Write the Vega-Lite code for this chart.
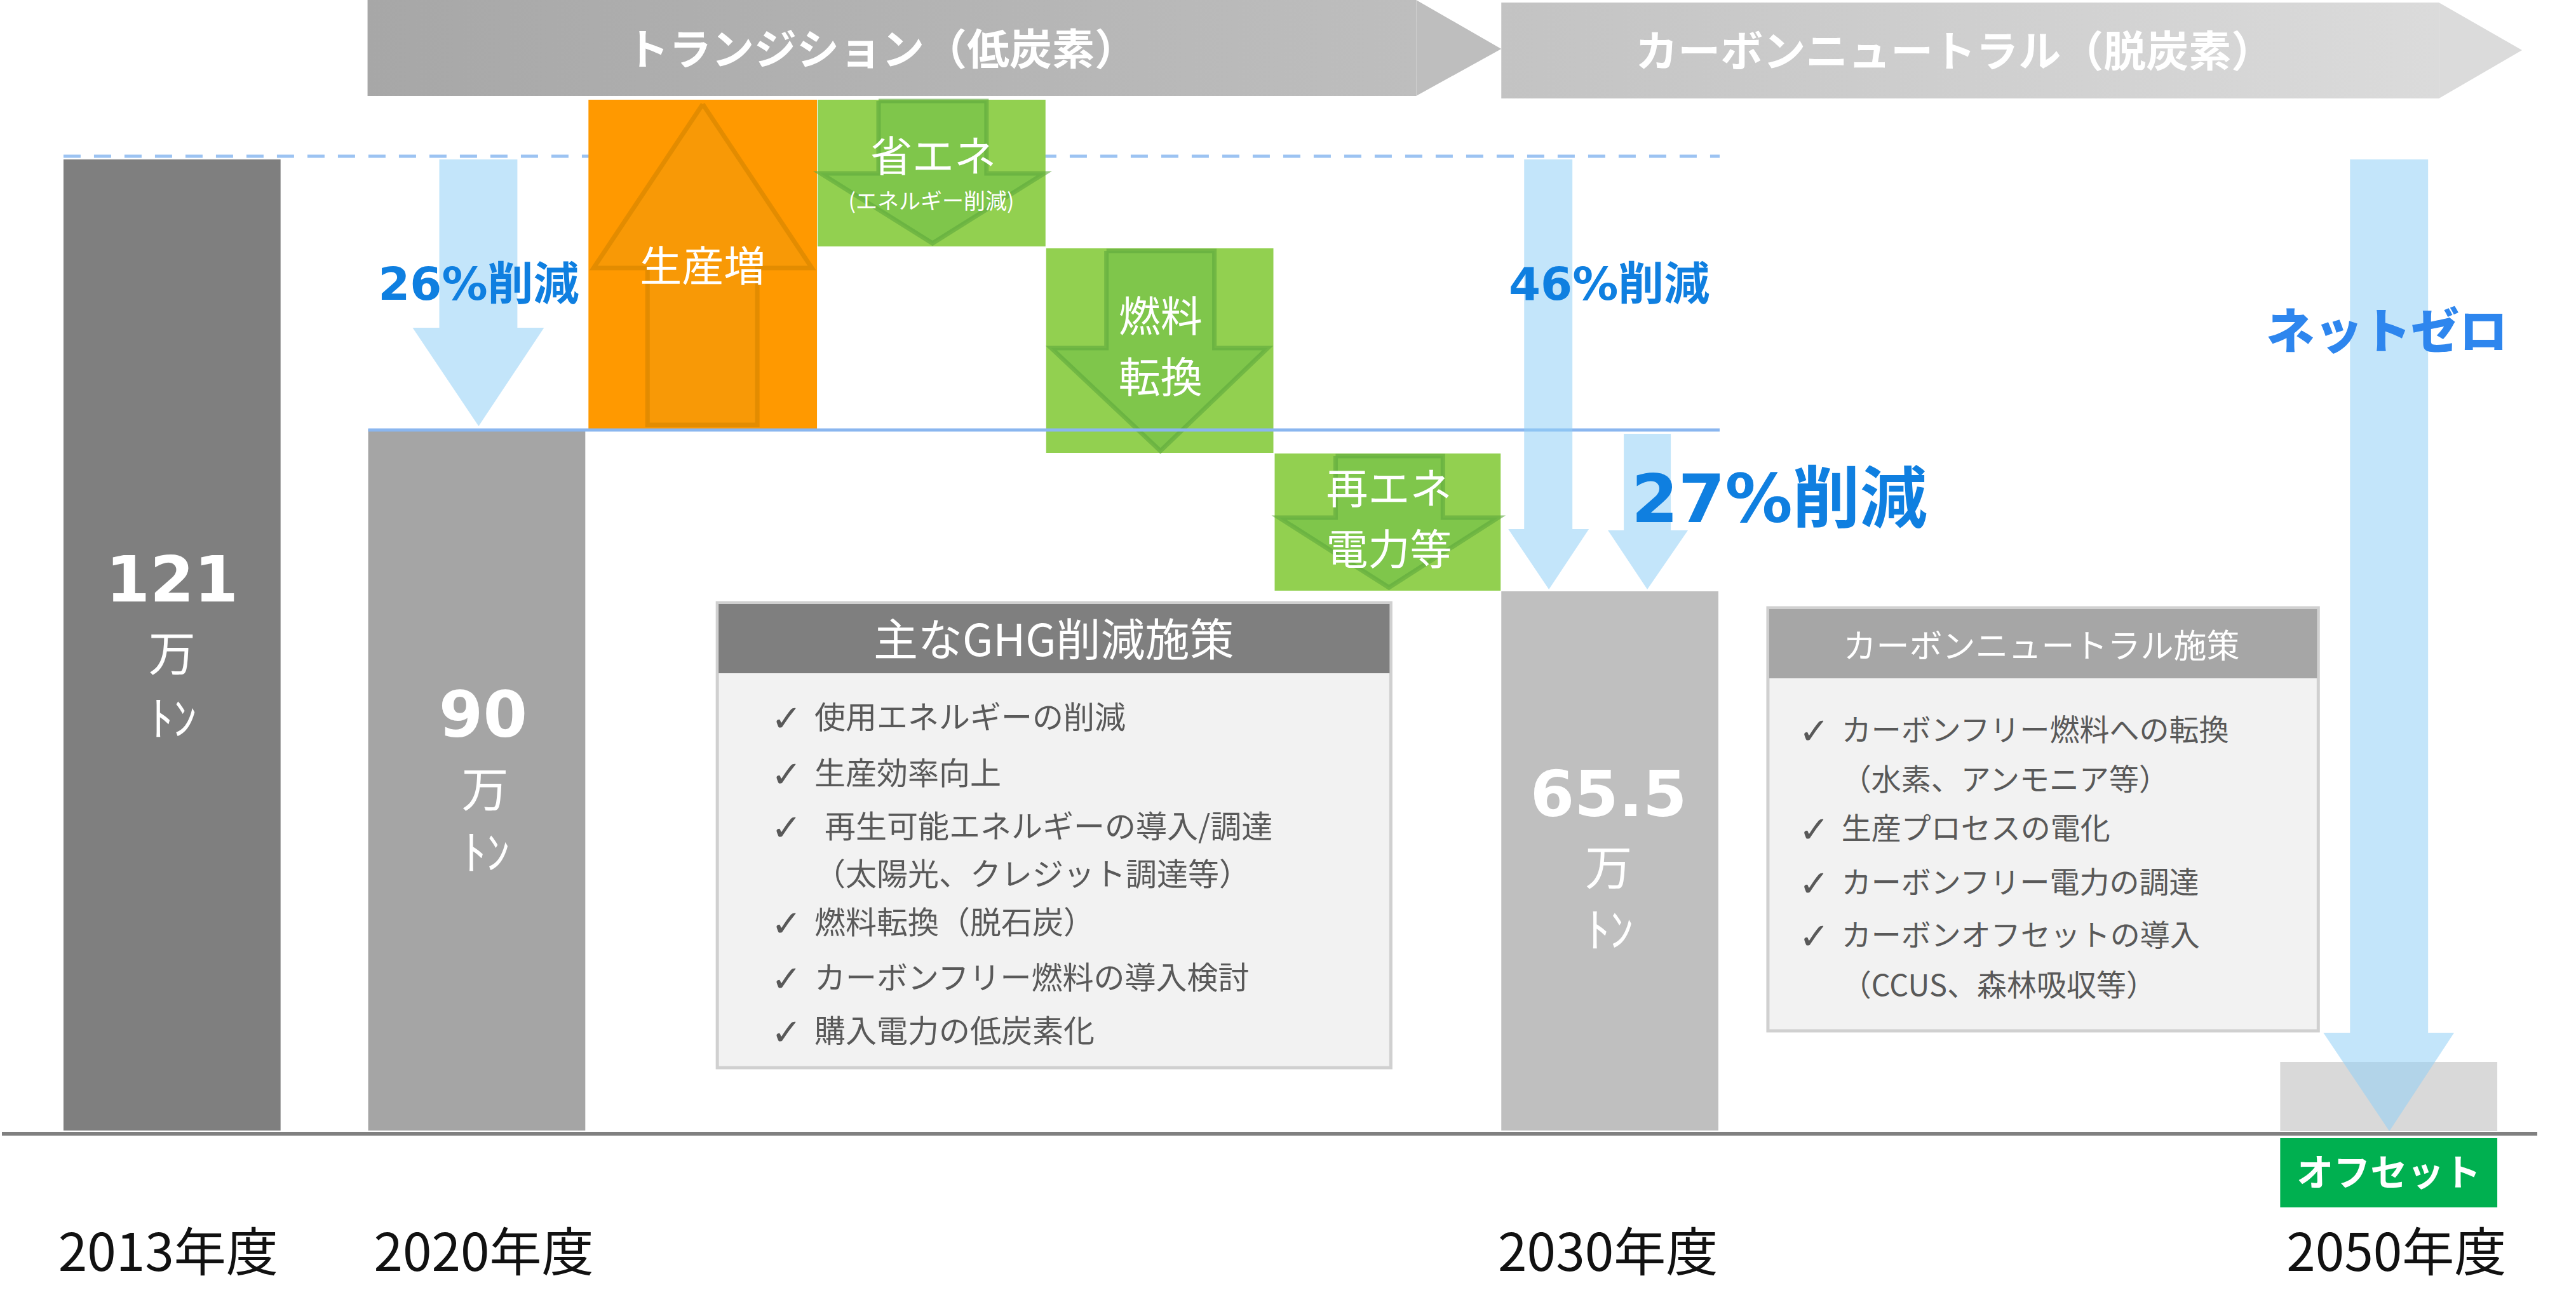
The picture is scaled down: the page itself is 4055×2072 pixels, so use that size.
{
  "$schema": "https://vega.github.io/schema/vega-lite/v6.json",
  "width": 4055,
  "height": 2072,
  "autosize": {"type": "fit", "contains": "padding"},
  "padding": 0,
  "background": "white",
  "config": {"view": {"stroke": null}},
  "datasets": {
    "banner": [
      {"id": 1, "x": 576, "x2": 2228, "y": 0, "y2": 151},
      {"id": 2, "x": 2362, "x2": 3839, "y": 4, "y2": 155}
    ],
    "bannerTips": [
      {"id": 1, "x": 2228, "y": 0, "y2": 151},
      {"id": 1, "x": 2362, "y": 77, "y2": 77},
      {"id": 2, "x": 3839, "y": 4, "y2": 155},
      {"id": 2, "x": 3970, "y": 79, "y2": 79}
    ],
    "bannerText": [
      {"x": 1386, "y": 82, "t": "トランジション（低炭素）"},
      {"x": 3076, "y": 85, "t": "カーボンニュートラル（脱炭素）"}
    ],
    "guides": [
      {"id": "level2013", "x": 97, "x2": 2706, "y": 246},
      {"id": "level2020", "x": 577, "x2": 2706, "y": 677},
      {"id": "axis", "x": 0, "x2": 3994, "y": 1785}
    ],
    "bars": [
      {"name": "2013年度", "kind": "b2013", "x": 97, "x2": 439, "y": 251, "y2": 1780},
      {"name": "2020年度", "kind": "b2020", "x": 577, "x2": 919, "y": 676, "y2": 1780},
      {"name": "2030年度", "kind": "b2030", "x": 2362, "x2": 2704, "y": 931, "y2": 1780},
      {"name": "2050年度", "kind": "b2050", "x": 3589, "x2": 3931, "y": 1672, "y2": 1781},
      {"name": "生産増", "kind": "increase", "x": 924, "x2": 1284, "y": 157, "y2": 676},
      {"name": "省エネ", "kind": "reduce", "x": 1285, "x2": 1644, "y": 157, "y2": 388},
      {"name": "燃料転換", "kind": "reduce", "x": 1645, "x2": 2003, "y": 391, "y2": 713},
      {"name": "再エネ電力等", "kind": "reduce", "x": 2005, "x2": 2361, "y": 714, "y2": 930}
    ],
    "upShaft": [
      {"id": "up", "x": 1017, "x2": 1190, "y": 422, "y2": 669}
    ],
    "upHead": [
      {"id": "up", "x": 932, "y": 422, "y2": 422},
      {"id": "up", "x": 1104, "y": 164, "y2": 422},
      {"id": "up", "x": 1276, "y": 422, "y2": 422}
    ],
    "upOutline": [
      {"id": "up", "o": 1, "x": 1104, "y": 164},
      {"id": "up", "o": 2, "x": 1276, "y": 422},
      {"id": "up", "o": 3, "x": 1190, "y": 422},
      {"id": "up", "o": 4, "x": 1190, "y": 669},
      {"id": "up", "o": 5, "x": 1017, "y": 669},
      {"id": "up", "o": 6, "x": 1017, "y": 422},
      {"id": "up", "o": 7, "x": 932, "y": 422},
      {"id": "up", "o": 8, "x": 1104, "y": 164}
    ],
    "greenShafts": [
      {"id": "A", "x": 1381, "x2": 1551, "y": 159, "y2": 273},
      {"id": "B", "x": 1740, "x2": 1910, "y": 395, "y2": 548},
      {"id": "C", "x": 2101, "x2": 2270, "y": 718, "y2": 815}
    ],
    "greenHeads": [
      {"id": "A", "x": 1290, "y": 273, "y2": 273},
      {"id": "A", "x": 1466, "y": 273, "y2": 383},
      {"id": "A", "x": 1642, "y": 273, "y2": 273},
      {"id": "B", "x": 1653, "y": 548, "y2": 548},
      {"id": "B", "x": 1825, "y": 548, "y2": 710},
      {"id": "B", "x": 1994, "y": 548, "y2": 548},
      {"id": "C", "x": 2012, "y": 815, "y2": 815},
      {"id": "C", "x": 2185, "y": 815, "y2": 925},
      {"id": "C", "x": 2357, "y": 815, "y2": 815}
    ],
    "greenOutlines": [
      {"id": "A", "o": 1, "x": 1381, "y": 159}, {"id": "A", "o": 2, "x": 1551, "y": 159},
      {"id": "A", "o": 3, "x": 1551, "y": 273}, {"id": "A", "o": 4, "x": 1642, "y": 273},
      {"id": "A", "o": 5, "x": 1466, "y": 383}, {"id": "A", "o": 6, "x": 1290, "y": 273},
      {"id": "A", "o": 7, "x": 1381, "y": 273}, {"id": "A", "o": 8, "x": 1381, "y": 159},
      {"id": "B", "o": 1, "x": 1740, "y": 395}, {"id": "B", "o": 2, "x": 1910, "y": 395},
      {"id": "B", "o": 3, "x": 1910, "y": 548}, {"id": "B", "o": 4, "x": 1994, "y": 548},
      {"id": "B", "o": 5, "x": 1825, "y": 710}, {"id": "B", "o": 6, "x": 1653, "y": 548},
      {"id": "B", "o": 7, "x": 1740, "y": 548}, {"id": "B", "o": 8, "x": 1740, "y": 395},
      {"id": "C", "o": 1, "x": 2101, "y": 718}, {"id": "C", "o": 2, "x": 2270, "y": 718},
      {"id": "C", "o": 3, "x": 2270, "y": 815}, {"id": "C", "o": 4, "x": 2357, "y": 815},
      {"id": "C", "o": 5, "x": 2185, "y": 925}, {"id": "C", "o": 6, "x": 2012, "y": 815},
      {"id": "C", "o": 7, "x": 2101, "y": 815}, {"id": "C", "o": 8, "x": 2101, "y": 718}
    ],
    "blueShafts": [
      {"id": "a26", "x": 689, "x2": 812, "y": 251, "y2": 516},
      {"id": "a46", "x": 2398, "x2": 2474, "y": 251, "y2": 833},
      {"id": "a27", "x": 2555, "x2": 2629, "y": 683, "y2": 835},
      {"id": "anz", "x": 3699, "x2": 3822, "y": 251, "y2": 1626}
    ],
    "blueHeads": [
      {"id": "a26", "x": 647, "y": 516, "y2": 516},
      {"id": "a26", "x": 751, "y": 516, "y2": 671},
      {"id": "a26", "x": 854, "y": 516, "y2": 516},
      {"id": "a46", "x": 2373, "y": 833, "y2": 833},
      {"id": "a46", "x": 2437, "y": 833, "y2": 928},
      {"id": "a46", "x": 2500, "y": 833, "y2": 833},
      {"id": "a27", "x": 2530, "y": 835, "y2": 835},
      {"id": "a27", "x": 2592, "y": 835, "y2": 928},
      {"id": "a27", "x": 2656, "y": 835, "y2": 835},
      {"id": "anz", "x": 3657, "y": 1626, "y2": 1626},
      {"id": "anz", "x": 3761, "y": 1626, "y2": 1781},
      {"id": "anz", "x": 3863, "y": 1626, "y2": 1626}
    ],
    "boxes": [
      {"id": 1, "x": 1127, "x2": 2188, "y": 949, "y2": 1681},
      {"id": 2, "x": 2782, "x2": 3649, "y": 957, "y2": 1623}
    ],
    "boxHeaders": [
      {"id": 1, "x": 1129, "x2": 2186, "y": 951, "y2": 1060},
      {"id": 2, "x": 2784, "x2": 3647, "y": 959, "y2": 1068}
    ],
    "boxTitles": [
      {"id": 1, "x": 1657, "y": 1012, "t": "主なGHG削減施策"},
      {"id": 2, "x": 3213, "y": 1020, "t": "カーボンニュートラル施策"}
    ],
    "items": [
      {"box": 1, "x": 1280, "y": 1132, "t": "使用エネルギーの削減"},
      {"box": 1, "x": 1280, "y": 1220, "t": "生産効率向上"},
      {"box": 1, "x": 1296, "y": 1304, "t": "再生可能エネルギーの導入/調達"},
      {"box": 1, "x": 1280, "y": 1379, "t": "（太陽光、クレジット調達等）"},
      {"box": 1, "x": 1280, "y": 1455, "t": "燃料転換（脱石炭）"},
      {"box": 1, "x": 1280, "y": 1542, "t": "カーボンフリー燃料の導入検討"},
      {"box": 1, "x": 1280, "y": 1626, "t": "購入電力の低炭素化"},
      {"box": 2, "x": 2898, "y": 1152, "t": "カーボンフリー燃料への転換"},
      {"box": 2, "x": 2898, "y": 1230, "t": "（水素、アンモニア等）"},
      {"box": 2, "x": 2898, "y": 1307, "t": "生産プロセスの電化"},
      {"box": 2, "x": 2898, "y": 1392, "t": "カーボンフリー電力の調達"},
      {"box": 2, "x": 2898, "y": 1475, "t": "カーボンオフセットの導入"},
      {"box": 2, "x": 2898, "y": 1554, "t": "（CCUS、森林吸収等）"}
    ],
    "checks": [
      {"x": 1236, "y": 1134}, {"x": 1236, "y": 1222}, {"x": 1236, "y": 1306},
      {"x": 1236, "y": 1457}, {"x": 1236, "y": 1544}, {"x": 1236, "y": 1628},
      {"x": 2855, "y": 1154}, {"x": 2855, "y": 1309}, {"x": 2855, "y": 1394}, {"x": 2855, "y": 1477}
    ],
    "values": [
      {"x": 268, "y": 917, "t": "121"},
      {"x": 758, "y": 1130, "t": "90"},
      {"x": 2531, "y": 1255, "t": "65.5"}
    ],
    "units": [
      {"x": 268, "y": 1034, "t": "万"},
      {"x": 270, "y": 1136, "t": "ﾄﾝ"},
      {"x": 761, "y": 1248, "t": "万"},
      {"x": 763, "y": 1347, "t": "ﾄﾝ"},
      {"x": 2531, "y": 1371, "t": "万"},
      {"x": 2533, "y": 1469, "t": "ﾄﾝ"}
    ],
    "pct": [
      {"x": 751, "y": 450, "t": "26%削減"},
      {"x": 2532, "y": 450, "t": "46%削減"}
    ],
    "pctBig": [
      {"x": 2800, "y": 790, "t": "27%削減"}
    ],
    "netzero": [
      {"x": 3757, "y": 526, "t": "ネットゼロ"}
    ],
    "stepText": [
      {"x": 1104, "y": 423, "t": "生産増"},
      {"x": 1467, "y": 250, "t": "省エネ"},
      {"x": 1825, "y": 502, "t": "燃料"},
      {"x": 1825, "y": 598, "t": "転換"},
      {"x": 2185, "y": 773, "t": "再エネ"},
      {"x": 2185, "y": 869, "t": "電力等"}
    ],
    "stepSmall": [
      {"x": 1464, "y": 319, "t": "(エネルギー削減)"}
    ],
    "years": [
      {"x": 262, "y": 1976, "t": "2013年度"},
      {"x": 759, "y": 1976, "t": "2020年度"},
      {"x": 2530, "y": 1976, "t": "2030年度"},
      {"x": 3772, "y": 1976, "t": "2050年度"}
    ],
    "offsetBox": [
      {"x": 3589, "x2": 3931, "y": 1792, "y2": 1901}
    ],
    "offsetText": [
      {"x": 3760, "y": 1850, "t": "オフセット"}
    ]
  },
  "encoding": {
    "x": {"field": "x", "type": "quantitative", "scale": {"domain": [0, 4055], "nice": false, "zero": false}, "axis": null},
    "y": {"field": "y", "type": "quantitative", "scale": {"domain": [0, 2072], "nice": false, "zero": false, "reverse": true}, "axis": null}
  },
  "layer": [
    {
      "data": {"name": "banner"},
      "transform": [{"filter": "datum.id == 1"}],
      "mark": {"type": "rect", "fill": {"gradient": "linear", "x1": 0, "y1": 0, "x2": 1, "y2": 0, "stops": [{"offset": 0, "color": "#a7a7a7"}, {"offset": 1, "color": "#bebebe"}]}},
      "encoding": {"x2": {"field": "x2"}, "y2": {"field": "y2"}}
    },
    {
      "data": {"name": "banner"},
      "transform": [{"filter": "datum.id == 2"}],
      "mark": {"type": "rect", "fill": {"gradient": "linear", "x1": 0, "y1": 0, "x2": 1, "y2": 0, "stops": [{"offset": 0, "color": "#c3c3c3"}, {"offset": 1, "color": "#dbdbdb"}]}},
      "encoding": {"x2": {"field": "x2"}, "y2": {"field": "y2"}}
    },
    {
      "data": {"name": "bannerTips"},
      "transform": [{"filter": "datum.id == 1"}],
      "mark": {"type": "area", "orient": "vertical", "fill": "#bebebe"},
      "encoding": {"y2": {"field": "y2"}, "detail": {"field": "id"}}
    },
    {
      "data": {"name": "bannerTips"},
      "transform": [{"filter": "datum.id == 2"}],
      "mark": {"type": "area", "orient": "vertical", "fill": "#dbdbdb"},
      "encoding": {"y2": {"field": "y2"}, "detail": {"field": "id"}}
    },
    {
      "data": {"name": "bannerText"},
      "mark": {"type": "text", "font": "Noto Sans CJK JP", "fontWeight": "bold", "fontSize": 67, "fill": "white", "align": "center", "baseline": "middle"},
      "encoding": {"text": {"field": "t"}}
    },
    {
      "data": {"name": "guides"},
      "transform": [{"filter": "datum.id == 'level2013'"}],
      "mark": {"type": "rule", "stroke": "#9cc3f2", "strokeWidth": 5, "strokeDash": [27, 21]},
      "encoding": {"x2": {"field": "x2"}}
    },
    {
      "data": {"name": "bars"},
      "mark": {"type": "rect"},
      "encoding": {
        "x2": {"field": "x2"},
        "y2": {"field": "y2"},
        "color": {"field": "kind", "type": "nominal", "legend": null,
          "scale": {"domain": ["b2013", "b2020", "b2030", "b2050", "increase", "reduce"], "range": ["#7f7f7f", "#a5a5a5", "#bfbfbf", "#d9d9d9", "#ff9900", "#92d050"]}}
      }
    },
    {
      "data": {"name": "upShaft"},
      "mark": {"type": "rect", "fill": "#ec9a12", "fillOpacity": 0.35},
      "encoding": {"x2": {"field": "x2"}, "y2": {"field": "y2"}}
    },
    {
      "data": {"name": "upHead"},
      "mark": {"type": "area", "orient": "vertical", "fill": "#ec9a12", "fillOpacity": 0.35},
      "encoding": {"y2": {"field": "y2"}, "detail": {"field": "id"}}
    },
    {
      "data": {"name": "upOutline"},
      "mark": {"type": "line", "stroke": "#d98600", "strokeOpacity": 0.7, "strokeWidth": 7, "strokeJoin": "miter"},
      "encoding": {"order": {"field": "o", "type": "quantitative"}, "detail": {"field": "id"}}
    },
    {
      "data": {"name": "greenShafts"},
      "mark": {"type": "rect", "fill": "#6fbe47", "fillOpacity": 0.55},
      "encoding": {"x2": {"field": "x2"}, "y2": {"field": "y2"}}
    },
    {
      "data": {"name": "greenHeads"},
      "mark": {"type": "area", "orient": "vertical", "fill": "#6fbe47", "fillOpacity": 0.55},
      "encoding": {"y2": {"field": "y2"}, "detail": {"field": "id"}}
    },
    {
      "data": {"name": "greenOutlines"},
      "mark": {"type": "line", "stroke": "#5ea83c", "strokeOpacity": 0.6, "strokeWidth": 7, "strokeJoin": "miter"},
      "encoding": {"order": {"field": "o", "type": "quantitative"}, "detail": {"field": "id"}}
    },
    {
      "data": {"name": "guides"},
      "transform": [{"filter": "datum.id == 'level2020'"}],
      "mark": {"type": "rule", "stroke": "#8ab6ef", "strokeWidth": 5},
      "encoding": {"x2": {"field": "x2"}}
    },
    {
      "data": {"name": "blueShafts"},
      "mark": {"type": "rect", "fill": "#92cff6", "fillOpacity": 0.55},
      "encoding": {"x2": {"field": "x2"}, "y2": {"field": "y2"}}
    },
    {
      "data": {"name": "blueHeads"},
      "mark": {"type": "area", "orient": "vertical", "fill": "#92cff6", "fillOpacity": 0.55},
      "encoding": {"y2": {"field": "y2"}, "detail": {"field": "id"}}
    },
    {
      "data": {"name": "boxes"},
      "mark": {"type": "rect", "fill": "#f2f2f2", "stroke": "#d0d0d0", "strokeWidth": 5},
      "encoding": {"x2": {"field": "x2"}, "y2": {"field": "y2"}}
    },
    {
      "data": {"name": "boxHeaders"},
      "transform": [{"filter": "datum.id == 1"}],
      "mark": {"type": "rect", "fill": "#7f7f7f"},
      "encoding": {"x2": {"field": "x2"}, "y2": {"field": "y2"}}
    },
    {
      "data": {"name": "boxHeaders"},
      "transform": [{"filter": "datum.id == 2"}],
      "mark": {"type": "rect", "fill": "#a6a6a6"},
      "encoding": {"x2": {"field": "x2"}, "y2": {"field": "y2"}}
    },
    {
      "data": {"name": "boxTitles"},
      "transform": [{"filter": "datum.id == 1"}],
      "mark": {"type": "text", "font": "Noto Sans CJK JP", "fontSize": 70, "fill": "white", "align": "center", "baseline": "middle"},
      "encoding": {"text": {"field": "t"}}
    },
    {
      "data": {"name": "boxTitles"},
      "transform": [{"filter": "datum.id == 2"}],
      "mark": {"type": "text", "font": "Noto Sans CJK JP", "fontSize": 52, "fill": "white", "align": "center", "baseline": "middle"},
      "encoding": {"text": {"field": "t"}}
    },
    {
      "data": {"name": "items"},
      "transform": [{"filter": "datum.box == 1"}],
      "mark": {"type": "text", "font": "Noto Sans CJK JP", "fontSize": 49, "fill": "#595959", "align": "left", "baseline": "middle"},
      "encoding": {"text": {"field": "t"}}
    },
    {
      "data": {"name": "items"},
      "transform": [{"filter": "datum.box == 2"}],
      "mark": {"type": "text", "font": "Noto Sans CJK JP", "fontSize": 47, "fill": "#595959", "align": "left", "baseline": "middle"},
      "encoding": {"text": {"field": "t"}}
    },
    {
      "data": {"name": "checks"},
      "mark": {"type": "text", "font": "DejaVu Sans", "fontWeight": "bold", "fontSize": 58, "fill": "#595959", "align": "center", "baseline": "middle", "text": "✓"},
      "encoding": {}
    },
    {
      "data": {"name": "values"},
      "mark": {"type": "text", "font": "DejaVu Sans", "fontWeight": "bold", "fontSize": 100, "fill": "white", "align": "center", "baseline": "middle"},
      "encoding": {"text": {"field": "t"}}
    },
    {
      "data": {"name": "units"},
      "mark": {"type": "text", "font": "Noto Sans CJK JP", "fontSize": 74, "fill": "white", "align": "center", "baseline": "middle"},
      "encoding": {"text": {"field": "t"}}
    },
    {
      "data": {"name": "pct"},
      "mark": {"type": "text", "font": "DejaVu Sans, Noto Sans CJK JP", "fontWeight": "bold", "fontSize": 72, "fill": "#0f7fe0", "align": "center", "baseline": "middle"},
      "encoding": {"text": {"field": "t"}}
    },
    {
      "data": {"name": "pctBig"},
      "mark": {"type": "text", "font": "DejaVu Sans, Noto Sans CJK JP", "fontWeight": "bold", "fontSize": 106, "fill": "#0f7fe0", "align": "center", "baseline": "middle"},
      "encoding": {"text": {"field": "t"}}
    },
    {
      "data": {"name": "netzero"},
      "mark": {"type": "text", "font": "Noto Sans CJK JP", "fontWeight": 900, "fontSize": 76, "fill": "#2e86ee", "align": "center", "baseline": "middle"},
      "encoding": {"text": {"field": "t"}}
    },
    {
      "data": {"name": "stepText"},
      "mark": {"type": "text", "font": "Noto Sans CJK JP", "fontSize": 66, "fill": "white", "align": "center", "baseline": "middle"},
      "encoding": {"text": {"field": "t"}}
    },
    {
      "data": {"name": "stepSmall"},
      "mark": {"type": "text", "font": "Noto Sans CJK JP", "fontSize": 34, "fill": "white", "align": "center", "baseline": "middle"},
      "encoding": {"text": {"field": "t"}}
    },
    {
      "data": {"name": "guides"},
      "transform": [{"filter": "datum.id == 'axis'"}],
      "mark": {"type": "rule", "stroke": "#808080", "strokeWidth": 6},
      "encoding": {"x2": {"field": "x2"}}
    },
    {
      "data": {"name": "offsetBox"},
      "mark": {"type": "rect", "fill": "#00b050"},
      "encoding": {"x2": {"field": "x2"}, "y2": {"field": "y2"}}
    },
    {
      "data": {"name": "offsetText"},
      "mark": {"type": "text", "font": "Noto Sans CJK JP", "fontWeight": "bold", "fontSize": 58, "fill": "white", "align": "center", "baseline": "middle"},
      "encoding": {"text": {"field": "t"}}
    },
    {
      "data": {"name": "years"},
      "mark": {"type": "text", "font": "Noto Sans CJK JP", "fontSize": 82, "fill": "#111111", "align": "center", "baseline": "middle"},
      "encoding": {"text": {"field": "t"}}
    }
  ]
}
